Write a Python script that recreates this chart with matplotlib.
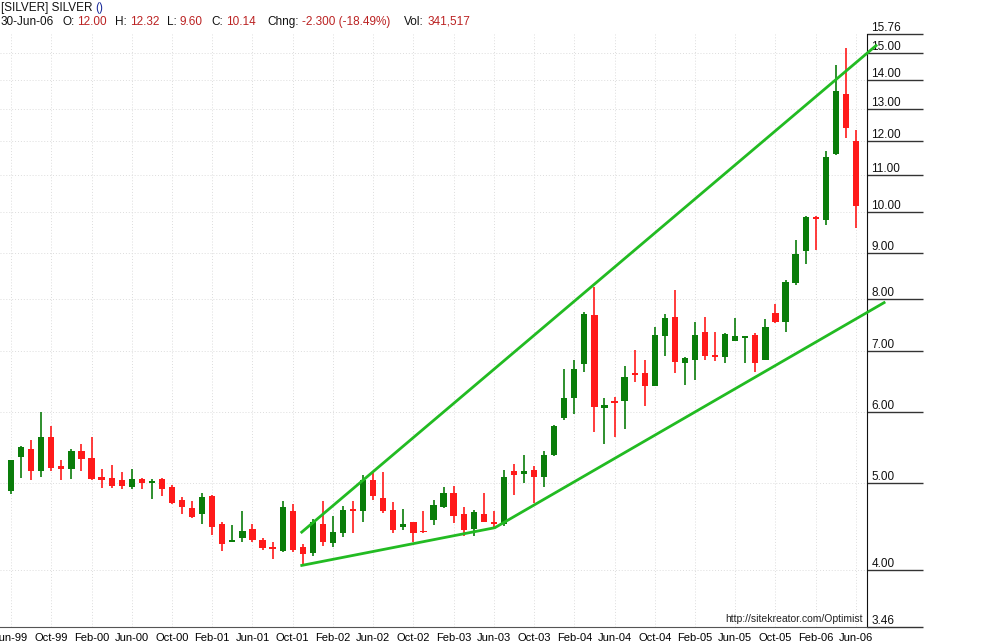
import matplotlib
matplotlib.use("Agg")
import matplotlib.pyplot as plt
from matplotlib.ticker import NullLocator, FixedLocator
from matplotlib.transforms import blended_transform_factory

opens = [4.90,5.35,5.46,5.15,5.62,5.22,5.18,5.43,5.33,5.08,5.06,5.04,4.95,5.05,5.00,5.05,4.95,4.79,4.69,4.62,
         4.84,4.50,4.30,4.34,4.44,4.32,4.24,4.20,4.65,4.24,4.18,4.50,4.29,4.40,4.68,4.66,5.04,4.81,4.67,4.47,
         4.52,4.42,4.55,4.70,4.88,4.62,4.45,4.62,4.52,4.50,5.15,5.12,5.17,5.08,5.37,5.90,6.22,6.78,7.69,6.05,
         6.17,6.17,6.63,6.63,6.41,7.28,7.65,6.80,6.85,7.36,6.92,6.90,7.18,7.25,7.30,6.85,7.73,7.55,8.34,9.05,
         9.85,9.80,11.59,13.52,12.00]
highs = [5.30,5.50,5.58,6.00,5.78,5.30,5.45,5.52,5.62,5.18,5.24,5.14,5.18,5.06,5.05,5.06,4.97,4.82,4.77,4.87,
         4.85,4.52,4.49,4.66,4.50,4.34,4.30,4.78,4.74,4.28,4.56,4.78,4.60,4.72,4.77,5.10,5.14,5.14,4.76,4.68,
         4.52,4.65,4.79,4.95,4.96,4.70,4.67,4.88,4.66,5.17,5.25,5.37,5.22,5.43,5.80,6.69,6.85,7.74,8.25,6.21,
         6.23,6.75,7.03,6.85,7.45,7.70,8.19,6.90,7.55,7.65,7.36,7.33,7.62,7.28,7.34,7.60,7.90,8.40,9.30,9.89,
         9.90,11.70,14.55,15.20,12.32]
lows = [4.86,5.06,5.04,5.08,5.16,5.04,5.05,5.15,5.04,4.94,4.94,4.93,4.93,4.93,4.80,4.84,4.74,4.62,4.57,4.50,
        4.38,4.20,4.30,4.30,4.30,4.21,4.12,4.19,4.19,4.04,4.15,4.26,4.24,4.36,4.40,4.52,4.79,4.63,4.40,4.43,
        4.30,4.40,4.49,4.69,4.51,4.37,4.37,4.52,4.45,4.48,4.85,5.00,4.75,4.95,5.36,5.88,5.96,6.64,5.69,5.53,
        5.62,5.74,6.48,6.09,6.41,6.92,6.62,6.43,6.51,6.85,6.83,6.80,7.18,6.80,6.64,6.84,7.53,7.36,8.30,8.75,
        9.07,9.67,11.56,12.07,9.60]
closes = [5.30,5.48,5.16,5.62,5.19,5.18,5.43,5.32,5.05,5.04,4.96,4.96,5.05,5.00,5.01,4.93,4.75,4.70,4.58,4.83,
          4.47,4.28,4.31,4.42,4.32,4.23,4.22,4.70,4.21,4.17,4.52,4.30,4.41,4.67,4.66,5.04,4.84,4.66,4.43,4.50,
          4.40,4.41,4.73,4.88,4.60,4.43,4.64,4.53,4.50,5.08,5.10,5.16,5.08,5.37,5.78,6.21,6.69,7.70,6.07,6.11,
          6.13,6.56,6.59,6.40,7.30,7.63,6.81,6.88,7.30,6.92,6.90,7.32,7.28,7.27,6.80,7.45,7.55,8.37,8.97,9.87,
          9.82,11.50,13.62,12.39,10.14]
month_labels = ["Jun-99","Oct-99","Feb-00","Jun-00","Oct-00","Feb-01","Jun-01","Oct-01","Feb-02","Jun-02",
                "Oct-02","Feb-03","Jun-03","Oct-03","Feb-04","Jun-04","Oct-04","Feb-05","Jun-05","Oct-05",
                "Feb-06","Jun-06"]
price_ticks = [3.46,4,5,6,7,8,9,10,11,12,13,14,15,15.76]
upper_x = [28.9, 86.0]; upper_y = [4.41, 15.3]
lower_x = [28.9, 48.1, 86.8]; lower_y = [4.05, 4.46, 7.93]

plt.rcParams['font.family'] = ['Liberation Sans', 'DejaVu Sans']
W, H = 987, 642
fig = plt.figure(figsize=(W/100, H/100), dpi=100)
top, bot = 34, 627
ax = fig.add_axes([0, 1-bot/H, 867/W, (bot-top)/H])
ax.set_yscale("log")
ax.set_ylim(3.46, 15.76)
ax.set_xlim(-1.1, 85.1)

green, red = "#0a7d0a", "#ff1a1a"
for i, (o, h, l, c) in enumerate(zip(opens, highs, lows, closes)):
    col = green if c >= o else red
    ax.vlines(i, l, h, color=col, lw=1.2, zorder=3)
    b0, b1 = min(o, c), max(o, c)
    if b1 / b0 < 1.004:
        b1 = b0 * 1.004
    ax.bar(i, b1 - b0, bottom=b0, width=0.62, color=col, zorder=4, linewidth=0)

ax.plot(upper_x, upper_y, color="#22bb22", lw=2, zorder=5, clip_on=False)
ax.plot(lower_x, lower_y, color="#22bb22", lw=2, zorder=5, clip_on=False)

ax.yaxis.set_minor_locator(NullLocator())
ax.yaxis.set_major_locator(FixedLocator(price_ticks))
ax.yaxis.tick_right()
ax.tick_params(axis="y", length=40, width=1, color="#333333", labelright=False, direction="out")
tr = blended_transform_factory(ax.transAxes, ax.transData)
for p in price_ticks:
    ax.text(1.005, p, f"{p:.2f}", transform=tr, fontsize=8.5, va="bottom", ha="left", color="#111111")
for p in price_ticks[1:-1]:
    ax.axhline(p, color="#dddddd", lw=0.7, ls=(0, (1, 2)), zorder=0)

xt = list(range(0, 85, 4))
ax.set_xticks(xt)
ax.set_xticklabels(month_labels, fontsize=8)
ax.xaxis.set_minor_locator(NullLocator())
ax.tick_params(axis="x", length=0, pad=4)
for x in xt:
    ax.axvline(x, color="#dddddd", lw=0.7, ls=(0, (1, 2)), zorder=0)

for s in ["top", "left"]:
    ax.spines[s].set_visible(False)
ax.spines["right"].set_color("#111111")
ax.spines["bottom"].set_color("#555555")

ax.text(0.995, 0.005, "http://sitekreator.com/Optimist", transform=ax.transAxes,
        fontsize=7.5, ha="right", va="bottom", color="#222222")

renderer = fig.canvas.get_renderer()
def line(y, parts):
    x = 1
    for t, c, gap in parts:
        txt = fig.text(x/W, 1-y/H, t, fontsize=8.5, va="center", color=c)
        x += txt.get_window_extent(renderer).width + gap

line(8, [("[SILVER] SILVER", "#111", 3), ("()", "#1a2a9a", 0)])
line(22, [("30-Jun-06", "#111", 8), ("O:", "#111", 3), ("12.00", "#b22", 8), ("H:", "#111", 3),
          ("12.32", "#b22", 8), ("L:", "#111", 3), ("9.60", "#b22", 8), ("C:", "#111", 3),
          ("10.14", "#b22", 12), ("Chng:", "#111", 3), ("-2.300 (-18.49%)", "#b22", 14),
          ("Vol:", "#111", 3), ("341,517", "#b22", 0)])

fig.savefig("out.png", dpi=100)
